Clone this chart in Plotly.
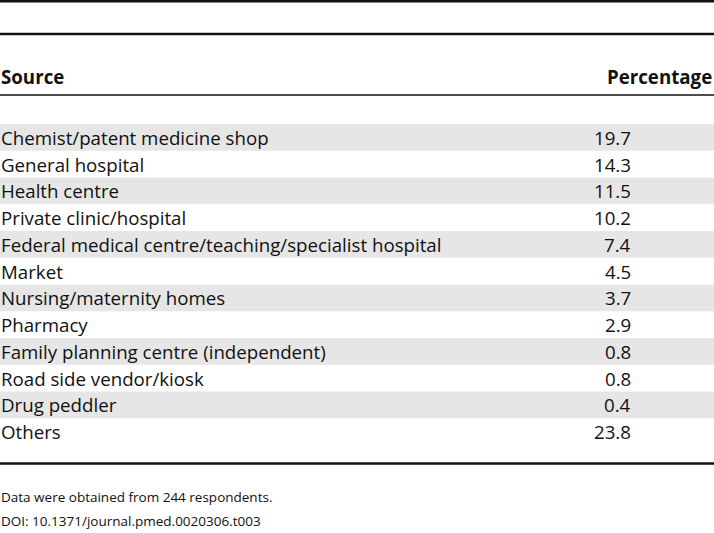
import plotly.graph_objects as go

sources = [
    "Chemist/patent medicine shop",
    "General hospital",
    "Health centre",
    "Private clinic/hospital",
    "Federal medical centre/teaching/specialist hospital",
    "Market",
    "Nursing/maternity homes",
    "Pharmacy",
    "Family planning centre (independent)",
    "Road side vendor/kiosk",
    "Drug peddler",
    "Others",
]
percentages = ["19.7", "14.3", "11.5", "10.2", "7.4", "4.5", "3.7", "2.9", "0.8", "0.8", "0.4", "23.8"]
headers = ["Source", "Percentage"]
footnotes = ["Data were obtained from 244 respondents.", "DOI: 10.1371/journal.pmed.0020306.t003"]

W, H = 714, 533
FONT = "Open Sans, Noto Sans, sans-serif"
ROW_TOP, ROW_H = 124, 26.75
VAL_X = 633
FS = 18.7

fig = go.Figure()
fig.add_trace(go.Scatter(x=[0, W], y=[0, H], mode="markers", marker=dict(opacity=0), hoverinfo="skip", showlegend=False))

shapes = []
annotations = []

# Horizontal rules
for y, w in [(1.2, 2.5), (34, 2.5), (95, 1.6), (463.5, 2.5)]:
    shapes.append(dict(type="line", xref="x", yref="y", x0=0, x1=W, y0=y, y1=y,
                       line=dict(color="#111111", width=w)))

# Headers
annotations.append(dict(x=0, xshift=-1, y=76, text="<b>%s</b>" % headers[0], xanchor="left", yanchor="middle",
                        showarrow=False, font=dict(family=FONT, size=FS, color="#111111")))
annotations.append(dict(x=1.0, xref="paper", y=76, text="<b>%s</b>" % headers[1], xanchor="right",
                        yanchor="middle", showarrow=False, font=dict(family=FONT, size=FS, color="#111111")))

for i, (s, p) in enumerate(zip(sources, percentages)):
    y0 = ROW_TOP + i * ROW_H
    yc = y0 + ROW_H / 2
    if i % 2 == 0:
        shapes.append(dict(type="rect", xref="x", yref="y", x0=0, x1=W, y0=y0, y1=y0 + ROW_H,
                           fillcolor="#e6e6e6", line=dict(width=0), layer="below"))
    annotations.append(dict(x=0, xshift=-1, y=yc, text=s, xanchor="left", yanchor="middle", showarrow=False,
                            font=dict(family=FONT, size=FS, color="#111111")))
    annotations.append(dict(x=VAL_X, y=yc, text=p, xanchor="right", yanchor="middle", showarrow=False,
                            font=dict(family=FONT, size=FS, color="#111111")))

for j, t in enumerate(footnotes):
    annotations.append(dict(x=0, xshift=-1, y=497 + j * 24, text=t, xanchor="left", yanchor="middle",
                            showarrow=False, font=dict(family=FONT, size=13.5, color="#111111")))

fig.update_layout(
    width=W, height=H,
    margin=dict(l=0, r=0, t=0, b=0),
    paper_bgcolor="white", plot_bgcolor="white",
    xaxis=dict(range=[0, W], visible=False, fixedrange=True),
    yaxis=dict(range=[H, 0], visible=False, fixedrange=True),
    shapes=shapes, annotations=annotations,
)

fig.write_html("out.html", config={"displayModeBar": False},
               post_script="document.body.style.margin='0';document.body.style.overflow='hidden';")
